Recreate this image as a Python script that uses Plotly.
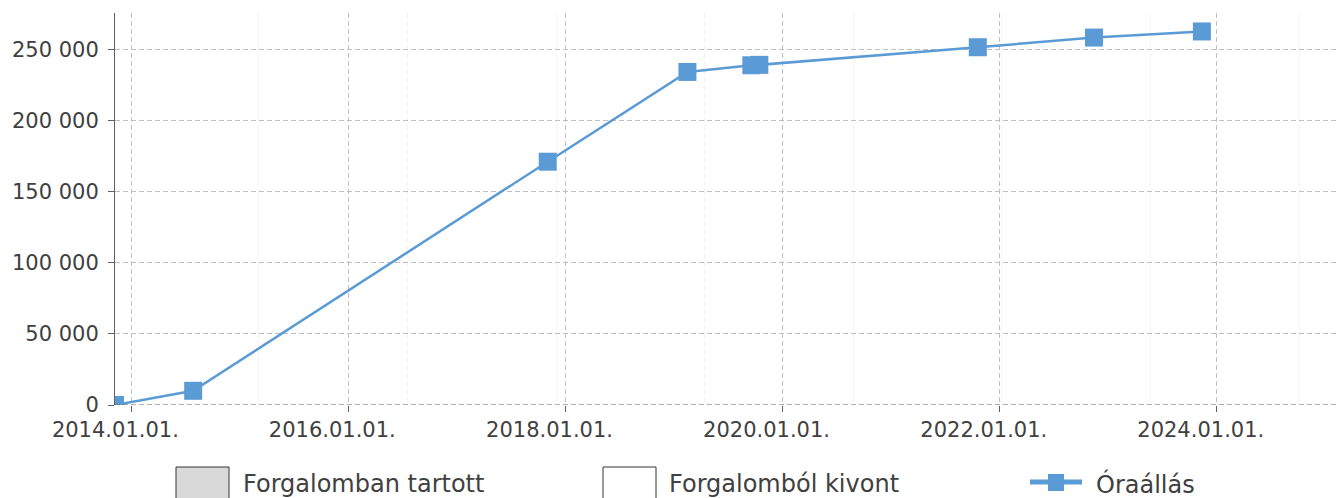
import plotly.graph_objects as go

# Data
dates = ['2013-11-07', '2014-07-28', '2017-11-02', '2019-02-15', '2019-09-18',
         '2019-10-15', '2021-10-19', '2022-11-14', '2023-11-12']
values = [0, 10000, 171300, 234500, 239200, 239500, 251900, 258700, 263000]
series_name = 'Óraállás'
legend_labels = ['Forgalomban tartott', 'Forgalomból kivont', 'Óraállás']
x_range = ['2013-11-07', '2025-02-12']
y_range = [0, 276000]

W, H = 1338, 498
ML, MR, MT, MB = 115, 0, 13, 93
PW, PH = W - ML - MR, H - MT - MB
TXT = '#404040'
BLUE = '#5b9bd5'
FONT = 'DejaVu Sans'

def px(x):
    return (x - ML) / PW

def py(y):
    return (H - MB - y) / PH

fig = go.Figure()
fig.add_trace(go.Scatter(
    x=dates, y=values, name=series_name, mode='lines+markers',
    line=dict(color=BLUE, width=2.5),
    marker=dict(symbol='square', size=18, color=BLUE),
    showlegend=False,
))

shapes = [
    dict(type='line', xref='paper', yref='y', x0=0, x1=1, y0=0, y1=0,
         line=dict(color='#606060', width=1, dash='5px,3px'), layer='above'),
    dict(type='rect', xref='paper', yref='paper', x0=px(176), x1=px(229), y0=py(467), y1=py(500),
         fillcolor='#d9d9d9', line=dict(color='#333333', width=1)),
    dict(type='rect', xref='paper', yref='paper', x0=px(603), x1=px(656), y0=py(467), y1=py(500),
         fillcolor='#ffffff', line=dict(color='#333333', width=1)),
    dict(type='line', xref='paper', yref='paper', x0=px(1030), x1=px(1082), y0=py(482), y1=py(482),
         line=dict(color=BLUE, width=5)),
    dict(type='rect', xref='paper', yref='paper', x0=px(1048), x1=px(1064), y0=py(474), y1=py(491),
         fillcolor=BLUE, line=dict(color=BLUE, width=0)),
]

annotations = []
for xpos, lab in zip([241, 667, 1094], legend_labels):
    annotations.append(dict(
        xref='paper', yref='paper', x=px(xpos), y=py(484), text=lab, showarrow=False,
        xanchor='left', yanchor='middle', font=dict(family=FONT, size=24, color=TXT)))

fig.update_layout(
    width=W, height=H,
    margin=dict(l=ML, r=MR, t=MT, b=MB, pad=0),
    paper_bgcolor='white', plot_bgcolor='white',
    separators=', ',
    font=dict(family=FONT, size=21, color=TXT),
    shapes=shapes, annotations=annotations,
    showlegend=False,
)

fig.update_xaxes(
    type='date', range=x_range,
    tick0='2014-01-01', dtick='M24', tickformat='%Y.%m.%d.',
    showgrid=True, gridcolor='#c0c0c0', griddash='5px,3px', gridwidth=1,
    ticks='outside', ticklen=6, tickcolor='#606060',
    ticklabelshift=-16,
    tickfont=dict(family=FONT, size=21, color=TXT),
    showline=False, zeroline=False,
    minor=dict(dtick=500 * 86400000, tick0='1970-01-01', showgrid=True,
               gridcolor='#f2f2f2', griddash='5px,3px', ticks=''),
)

fig.update_yaxes(
    range=y_range, dtick=50000, tick0=0, tickformat=',d',
    showgrid=True, gridcolor='#c0c0c0', griddash='5px,3px', gridwidth=1,
    ticks='outside', ticklen=6, tickcolor='#606060',
    ticklabelstandoff=5,
    tickfont=dict(family=FONT, size=21, color=TXT),
    showline=True, linecolor='#606060', linewidth=1,
    zeroline=False,
)

fig.write_html('out.html', config={'displayModeBar': False})

# remove default page margin so the figure sits at the top-left corner
with open('out.html', encoding='utf-8') as f:
    html = f.read()
html = html.replace('<body>', '<body style="margin:0;padding:0;overflow:hidden">', 1)
with open('out.html', 'w', encoding='utf-8') as f:
    f.write(html)
